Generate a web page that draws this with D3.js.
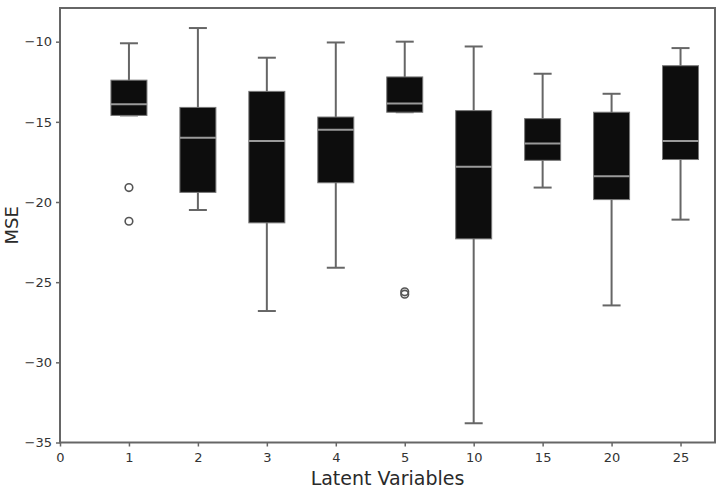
<!DOCTYPE html>
<html>
<head>
<meta charset="utf-8">
<script src="https://cdn.jsdelivr.net/npm/d3@7"></script>
<style>
  body { margin: 0; background: #fff; }
  text { font-family: "DejaVu Sans", sans-serif; }
</style>
</head>
<body>
<div id="chart"></div>
<script>
// latent variable counts (x categories)
var categories = ["1", "2", "3", "4", "5", "10", "15", "20", "25"];
var xTickLabels = ["0", "1", "2", "3", "4", "5", "10", "15", "20", "25"];
var yTicks = [-10, -15, -20, -25, -30, -35];

// box stats
var whiskerHigh = [-10.1, -9.15, -11.0, -10.05, -10.0, -10.3, -12.0, -13.25, -10.4];
var q3 = [-12.4, -14.1, -13.1, -14.7, -12.2, -14.3, -14.8, -14.4, -11.5];
var medians = [-13.9, -16.0, -16.2, -15.5, -13.85, -17.8, -16.35, -18.4, -16.2];
var q1 = [-14.6, -19.4, -21.3, -18.8, -14.4, -22.3, -17.4, -19.85, -17.35];
var whiskerLow = [-14.6, -20.5, -26.8, -24.1, -14.4, -33.8, -19.1, -26.45, -21.1];
var outliers = [[-19.1, -21.2], [], [], [], [-25.6, -25.75], [], [], [], []];

var width = 722, height = 489;
var plotLeft = 60, plotRight = 715, plotTop = 8, plotBottom = 442.5;

var svg = d3.select("#chart")
    .append("svg")
      .attr("width", width)
      .attr("height", height);

var x = d3.scaleLinear().domain([0, 9.5]).range([plotLeft, plotRight]);
var y = d3.scaleLinear().domain([-35, -7.9]).range([plotBottom, plotTop]);

var gray = "#666";
var boxW = 36, capW = 18;

var boxes = svg.append("g").selectAll("g")
    .data(categories)
    .enter().append("g");

boxes.append("line")
    .attr("x1", function(d, i) { return x(i + 1); })
    .attr("x2", function(d, i) { return x(i + 1); })
    .attr("y1", function(d, i) { return y(whiskerHigh[i]); })
    .attr("y2", function(d, i) { return y(whiskerLow[i]); })
    .attr("stroke", gray).attr("stroke-width", 2);

// caps
boxes.append("line")
    .attr("x1", function(d, i) { return x(i + 1) - capW / 2; })
    .attr("x2", function(d, i) { return x(i + 1) + capW / 2; })
    .attr("y1", function(d, i) { return y(whiskerHigh[i]); })
    .attr("y2", function(d, i) { return y(whiskerHigh[i]); })
    .attr("stroke", gray).attr("stroke-width", 2);
boxes.append("line")
    .attr("x1", function(d, i) { return x(i + 1) - capW / 2; })
    .attr("x2", function(d, i) { return x(i + 1) + capW / 2; })
    .attr("y1", function(d, i) { return y(whiskerLow[i]); })
    .attr("y2", function(d, i) { return y(whiskerLow[i]); })
    .attr("stroke", gray).attr("stroke-width", 2);

boxes.append("rect")
    .attr("x", function(d, i) { return x(i + 1) - boxW / 2; })
    .attr("y", function(d, i) { return y(q3[i]); })
    .attr("width", boxW)
    .attr("height", function(d, i) { return y(q1[i]) - y(q3[i]); })
    .attr("fill", "#0d0d0d")
    .attr("stroke", "#777").attr("stroke-width", 1);

boxes.append("line")
    .attr("x1", function(d, i) { return x(i + 1) - boxW / 2; })
    .attr("x2", function(d, i) { return x(i + 1) + boxW / 2; })
    .attr("y1", function(d, i) { return y(medians[i]); })
    .attr("y2", function(d, i) { return y(medians[i]); })
    .attr("stroke", "#9a9a9a").attr("stroke-width", 2);

boxes.each(function(d, i) {
  d3.select(this).selectAll("circle")
      .data(outliers[i])
      .enter().append("circle")
        .attr("cx", x(i + 1))
        .attr("cy", function(v) { return y(v); })
        .attr("r", 3.8)
        .attr("fill", "none")
        .attr("stroke", "#555").attr("stroke-width", 1.6);
});

// axes
var xAxis = svg.append("g")
    .attr("transform", "translate(0," + plotBottom + ")")
    .call(d3.axisBottom(x).tickValues(d3.range(xTickLabels.length))
      .tickFormat(function(d) { return xTickLabels[d]; }).tickSize(4).tickPadding(6));
var yAxis = svg.append("g")
    .attr("transform", "translate(" + plotLeft + ",0)")
    .call(d3.axisLeft(y).tickValues(yTicks).tickSize(4).tickPadding(4));

[xAxis, yAxis].forEach(function(a) {
  a.select(".domain").remove();
  a.selectAll("line").attr("stroke", gray).attr("stroke-width", 1.5);
  a.selectAll("text").attr("fill", "#333").style("font-size", "13px");
});

// frame
svg.append("rect")
    .attr("x", plotLeft).attr("y", plotTop)
    .attr("width", plotRight - plotLeft).attr("height", plotBottom - plotTop)
    .attr("fill", "none")
    .attr("stroke", gray).attr("stroke-width", 2);

svg.append("text")
    .attr("x", (plotLeft + plotRight) / 2).attr("y", 485)
    .attr("text-anchor", "middle")
    .attr("fill", "#2a2a2a")
    .style("font-size", "19px")
    .text("Latent Variables");

svg.append("text")
    .attr("transform", "translate(18," + ((plotTop + plotBottom) / 2) + ") rotate(-90)")
    .attr("text-anchor", "middle")
    .attr("fill", "#2a2a2a")
    .style("font-size", "18px")
    .text("MSE");
</script>
</body>
</html>
